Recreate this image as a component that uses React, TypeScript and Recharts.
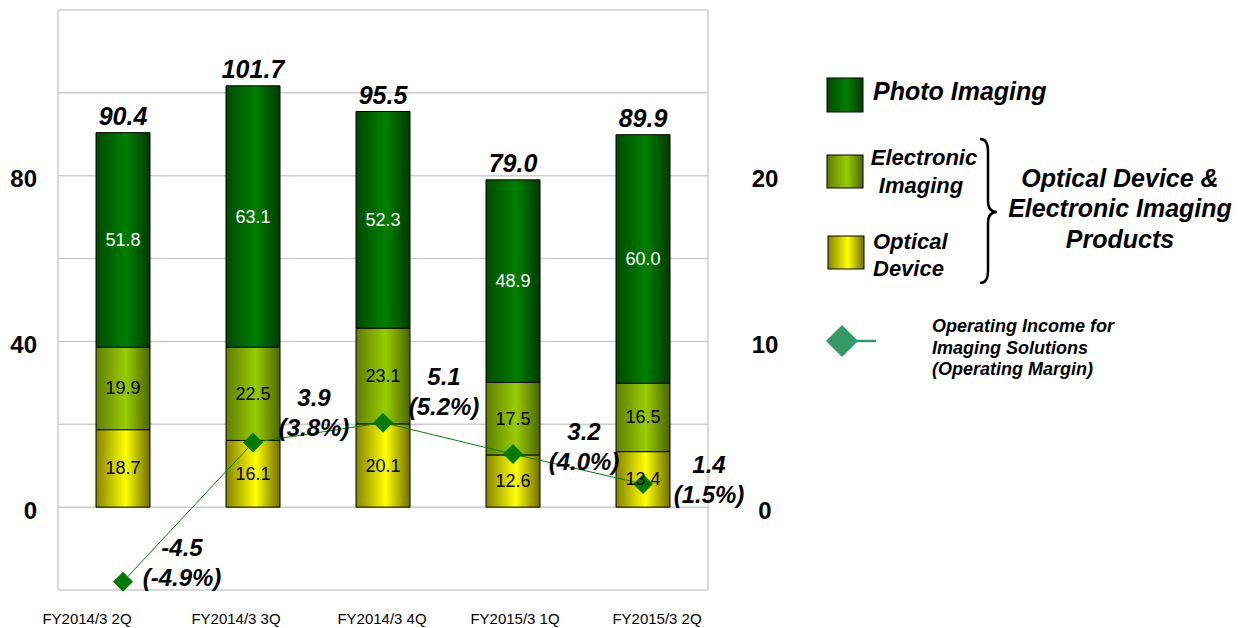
import React from 'react';
import {
  ComposedChart,
  Bar,
  Line,
  XAxis,
  YAxis,
  CartesianGrid,
  LabelList,
} from 'recharts';

const categories = ['FY2014/3 2Q', 'FY2014/3 3Q', 'FY2014/3 4Q', 'FY2015/3 1Q', 'FY2015/3 2Q'];
const opticalDevice = [18.7, 16.1, 20.1, 12.6, 13.4];
const electronicImaging = [19.9, 22.5, 23.1, 17.5, 16.5];
const photoImaging = [51.8, 63.1, 52.3, 48.9, 60.0];
const totals = [90.4, 101.7, 95.5, 79.0, 89.9];
const operatingIncome = [-4.5, 3.9, 5.1, 3.2, 1.4];
const operatingMargin = ['-4.9%', '3.8%', '5.2%', '4.0%', '1.5%'];
const leftTicks = [-20, 0, 20, 40, 60, 80, 100, 120];
const leftLabeledTicks = [0, 40, 80];
const rightTicks = [0, 10, 20];

const data = categories.map((q, i) => ({
  q,
  optical: opticalDevice[i],
  electronic: electronicImaging[i],
  photo: photoImaging[i],
  total: totals[i],
  income: operatingIncome[i],
}));

const FONT = '"Liberation Sans", Arial, sans-serif';

// label placement tweaks (style only)
const X_TICK_DX = [-36, -17, -1, 2, 14];
const INCOME_LABEL_DX = [59, 61, 61, 71, 66];
const INCOME_LABEL_DY = [-34, -45, -46, -23, -19];

const LeftTick = (props: any) => {
  const { x, y, payload } = props;
  if (!leftLabeledTicks.includes(payload.value)) return null;
  return (
    <text x={x} y={y} dy={3} textAnchor="end" dominantBaseline="central"
      fontFamily={FONT} fontWeight="bold" fontSize={24} fill="#000">
      {payload.value}
    </text>
  );
};

const RightTick = (props: any) => {
  const { x, y, payload } = props;
  return (
    <text x={x} y={y} dy={3} textAnchor="middle" dominantBaseline="central"
      fontFamily={FONT} fontWeight="bold" fontSize={24} fill="#000">
      {payload.value}
    </text>
  );
};

const XTick = (props: any) => {
  const { x, y, payload, index } = props;
  return (
    <text x={x + (X_TICK_DX[index] ?? 0)} y={y} dy="0.71em" textAnchor="middle"
      fontFamily={FONT} fontSize={15} fill="#000">
      {payload.value}
    </text>
  );
};

const segLabel = (color: string) => (props: any) => {
  const { x, y, width, height, value } = props;
  return (
    <text x={x + width / 2} y={y + height / 2} textAnchor="middle" dominantBaseline="central"
      fontFamily={FONT} fontSize={18} fill={color}>
      {Number(value).toFixed(1)}
    </text>
  );
};

const totalLabel = (props: any) => {
  const { x, y, width, value } = props;
  return (
    <text x={x + width / 2} y={y - 8} textAnchor="middle"
      fontFamily={FONT} fontSize={25} fontWeight="bold" fontStyle="italic" fill="#000">
      {Number(value).toFixed(1)}
    </text>
  );
};

const incomeLabel = (props: any) => {
  const { x, y, index, value } = props;
  const cx = x + INCOME_LABEL_DX[index];
  const cy = y + INCOME_LABEL_DY[index];
  return (
    <g>
      <text x={cx} y={cy} textAnchor="middle" dominantBaseline="central"
        fontFamily={FONT} fontSize={24} fontWeight="bold" fontStyle="italic" fill="#000">
        {Number(value).toFixed(1)}
      </text>
      <text x={cx} y={cy + 30} textAnchor="middle" dominantBaseline="central"
        fontFamily={FONT} fontSize={24} fontWeight="bold" fontStyle="italic" fill="#000">
        {`(${operatingMargin[index]})`}
      </text>
    </g>
  );
};

const Diamond = (props: any) => {
  const { cx, cy, index } = props;
  const r = 10;
  return (
    <path key={`d-${index}`} d={`M${cx},${cy - r} L${cx + r},${cy} L${cx},${cy + r} L${cx - r},${cy} Z`}
      fill="#007a00" stroke="none" />
  );
};

const Gradients = () => (
  <defs>
    <linearGradient id="gPhoto" x1="0" y1="0" x2="1" y2="0">
      <stop offset="0%" stopColor="#004a00" />
      <stop offset="55%" stopColor="#008000" />
      <stop offset="100%" stopColor="#003a00" />
    </linearGradient>
    <linearGradient id="gElec" x1="0" y1="0" x2="1" y2="0">
      <stop offset="0%" stopColor="#5f7f00" />
      <stop offset="55%" stopColor="#99cc00" />
      <stop offset="100%" stopColor="#4d6600" />
    </linearGradient>
    <linearGradient id="gOpt" x1="0" y1="0" x2="1" y2="0">
      <stop offset="0%" stopColor="#858500" />
      <stop offset="55%" stopColor="#ffff00" />
      <stop offset="100%" stopColor="#6e6e00" />
    </linearGradient>
  </defs>
);

const LegendOverlay = () => {
  const t = { fontFamily: FONT, fontWeight: 'bold' as const, fontStyle: 'italic' as const, fill: '#000' };
  return (
    <svg width={1247} height={628} style={{ position: 'absolute', left: 0, top: 0, pointerEvents: 'none' }}>
      <Gradients />
      <rect x={827} y={78} width={36} height={34} fill="url(#gPhoto)" stroke="#000" strokeWidth={1} />
      <text x={873} y={100} fontSize={25} {...t}>Photo Imaging</text>

      <rect x={827} y={155} width={36} height={33} fill="url(#gElec)" stroke="#000" strokeWidth={1} />
      <text x={924} y={165} fontSize={22} textAnchor="middle" {...t}>Electronic</text>
      <text x={921} y={193} fontSize={22} textAnchor="middle" {...t}>Imaging</text>

      <rect x={828} y={236} width={36} height={33} fill="url(#gOpt)" stroke="#000" strokeWidth={1} />
      <text x={873} y={249} fontSize={22} {...t}>Optical</text>
      <text x={873} y={276} fontSize={22} {...t}>Device</text>

      <path d="M980,139 Q988,139 988,151 L988,201 Q988,212 997,212 Q988,212 988,223 L988,271 Q988,283 980,283"
        fill="none" stroke="#000" strokeWidth={2.5} />

      <text x={1120} y={187} fontSize={25} textAnchor="middle" {...t}>Optical Device &amp;</text>
      <text x={1120} y={217} fontSize={25} textAnchor="middle" {...t}>Electronic Imaging</text>
      <text x={1120} y={248} fontSize={25} textAnchor="middle" {...t}>Products</text>

      <line x1={842} y1={341} x2={876} y2={341} stroke="#339966" strokeWidth={2.5} />
      <path d="M842,325 L858,341 L842,357 L826,341 Z" fill="#339966" />
      <text x={932} y={332} fontSize={18} {...t}>Operating Income for</text>
      <text x={932} y={354} fontSize={18} {...t}>Imaging Solutions</text>
      <text x={932} y={375} fontSize={18} {...t}>(Operating Margin)</text>
    </svg>
  );
};

export default function App() {
  return (
    <div style={{ position: 'relative', width: 1247, height: 628, background: '#fff' }}>
      <style>{`body{margin:0;}`}</style>
      <ComposedChart width={1247} height={628} data={data}
        margin={{ top: 10, right: 0, bottom: 0, left: 0 }}>
        <Gradients />
        <CartesianGrid yAxisId="left" vertical={false} stroke="#cccccc" strokeWidth={1.5} />
        <XAxis dataKey="q" height={38} axisLine={false} tickLine={false} tickSize={0} tickMargin={23}
          tick={<XTick />} interval={0} />
        <YAxis yAxisId="left" width={58} domain={[-20, 120]} ticks={leftTicks} type="number"
          axisLine={{ stroke: '#cccccc', strokeWidth: 1.5 }} tickLine={false} tickSize={0} tickMargin={21}
          tick={<LeftTick />} interval={0} />
        <YAxis yAxisId="right" orientation="right" width={539} domain={[-5, 30]} ticks={rightTicks} type="number"
          axisLine={{ stroke: '#cccccc', strokeWidth: 1.5 }} tickLine={false} tickSize={0} tickMargin={57}
          tick={<RightTick />} interval={0} />
        <Bar yAxisId="left" dataKey="optical" stackId="a" fill="url(#gOpt)" stroke="#000" strokeWidth={1}
          barSize={54} isAnimationActive={false}>
          <LabelList dataKey="optical" content={segLabel('#000')} />
        </Bar>
        <Bar yAxisId="left" dataKey="electronic" stackId="a" fill="url(#gElec)" stroke="#000" strokeWidth={1}
          barSize={54} isAnimationActive={false}>
          <LabelList dataKey="electronic" content={segLabel('#000')} />
        </Bar>
        <Bar yAxisId="left" dataKey="photo" stackId="a" fill="url(#gPhoto)" stroke="#000" strokeWidth={1}
          barSize={54} isAnimationActive={false}>
          <LabelList dataKey="photo" content={segLabel('#ffffff')} />
          <LabelList dataKey="total" content={totalLabel} />
        </Bar>
        <Line yAxisId="right" dataKey="income" stroke="#008000" strokeWidth={1} dot={Diamond}
          activeDot={false} isAnimationActive={false}>
          <LabelList dataKey="income" content={incomeLabel} />
        </Line>
      </ComposedChart>
      <LegendOverlay />
    </div>
  );
}
